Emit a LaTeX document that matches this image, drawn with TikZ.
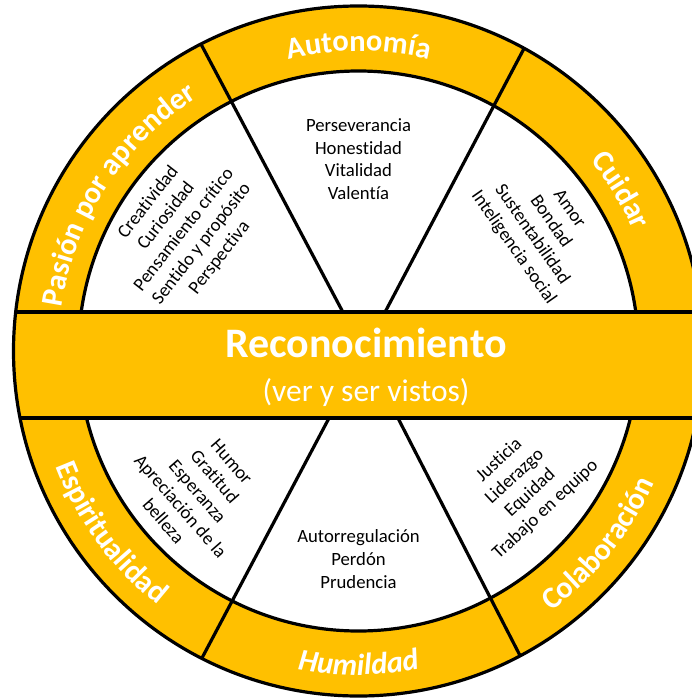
\documentclass[tikz,border=0pt]{standalone}
\usepackage{fontspec}
\setmainfont{Carlito}[Ligatures={NoCommon}]
\usetikzlibrary{decorations.text}
\definecolor{gold}{HTML}{FFC000}
\newcommand\ringfont{\fontsize{30.5}{36}\selectfont\bfseries\color{white}}
\newcommand\ringfontit{\fontsize{30.5}{36}\selectfont\bfseries\itshape\color{white}}
\newcommand\sectfont{\fontsize{18.7}{22.6}\selectfont}
\begin{document}
\begin{tikzpicture}[x=1pt,y=1pt,
  heavy/.style={line width=3.2pt},
  ringlbl/.style={decorate,decoration={text along path,text align=center,text={|\ringfont|#1}}},
  ringlblit/.style={decorate,decoration={text along path,text align=center,text={|\ringfontit|#1}}},
  sect/.style={font=\sectfont,align=center,inner sep=0pt,text=black},
  bandtext/.style={text=white,inner sep=0pt,anchor=base}]
\useasboundingbox (0,0) rectangle (691,-698);
\coordinate (C) at (358.5,-351);
\coordinate (P) at (364,-352);
% rings
\fill[gold] (C) circle[radius=345];
\fill[white] (C) circle[radius=280];
\draw[heavy] (C) circle[radius=280];
\begin{scope}
  \clip (C) circle[radius=345];
  \fill[gold] (0,-312) rectangle (720,-418);
  \draw[heavy] (0,-312) -- (720,-312);
  \draw[heavy] (0,-418) -- (720,-418);
  \draw[heavy] (P) ++(117.9:45.3) -- ++(117.9:400);
  \draw[heavy] (P) ++(62.2:45.2) -- ++(62.2:400);
  \draw[heavy] (P) ++(242.1:74.7) -- ++(242.1:400);
  \draw[heavy] (P) ++(297.2:74.2) -- ++(297.2:400);
\end{scope}
\draw[heavy] (C) circle[radius=345];
% ring labels (top half: clockwise, bottom half: counterclockwise)
\path[ringlbl={Autonomía}] (C) ++(140:300) arc[start angle=140,end angle=40,radius=300];
\path[ringlbl={Cuidar}] (C) ++(81.5:300) arc[start angle=81.5,end angle=-18.5,radius=300];
\path[ringlbl={Pasión por aprender}] (C) ++(197:300) arc[start angle=197,end angle=97,radius=300];
\path[ringlbl={Espiritualidad}] (C) ++(166.3:324) arc[start angle=166.3,end angle=266.3,radius=324];
\path[ringlblit={Humildad}] (C) ++(220:324) arc[start angle=220,end angle=320,radius=324];
\path[ringlbl={Colaboración}] (C) ++(271.2:324) arc[start angle=271.2,end angle=371.2,radius=324];
% band text
\node[bandtext,font=\fontsize{42}{48}\selectfont\bfseries] (rec) at (366,-357.3) {Reconocimiento};
\node[bandtext,font=\fontsize{31.5}{36}\selectfont] (sub) at (366,-401.5) {(ver y ser vistos)};
% sector texts
\node[sect] (stop) at (358.5,-159) {Perseverancia\\Honestidad\\Vitalidad\\Valentía};
\node[sect,rotate=52] (sul) at (184,-230) {Creatividad\\Curiosidad\\Pensamiento crítico\\Sentido y propósito\\Perspectiva};
\node[sect,rotate=-55] (sur) at (541,-228.5) {Amor\\Bondad\\Sustentabilidad\\Inteligencia social};
\node[sect,rotate=-49] (sll) at (197.5,-491.5) {Humor\\Gratitud\\Esperanza\\Apreciación de la\\belleza};
\node[sect,rotate=43] (slr) at (522.5,-485) {Justicia\\Liderazgo\\Equidad\\Trabajo en equipo};
\node[sect] (sbot) at (358.5,-559) {Autorregulación\\Perdón\\Prudencia};
\end{tikzpicture}
\end{document}
